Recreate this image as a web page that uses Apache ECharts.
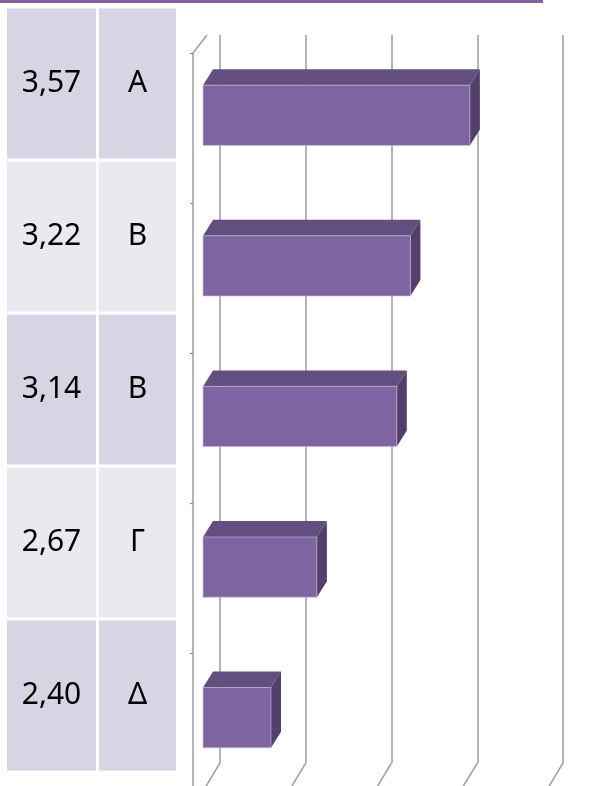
<!DOCTYPE html>
<html>
<head>
<meta charset="utf-8">
<script src="https://cdn.jsdelivr.net/npm/echarts@6/dist/echarts.min.js"></script>
<style>
  html, body { margin: 0; padding: 0; background: #fff; }
  #chart { width: 595px; height: 786px; }
</style>
</head>
<body>
<div id="chart"></div>
<script>
// data
const categories = ['Α', 'Β', 'Β', 'Γ', 'Δ'];
const values = [3.57, 3.22, 3.14, 2.67, 2.40];
const valueLabels = ['3,57', '3,22', '3,14', '2,67', '2,40'];
const axisMin = 2;
const axisMax = 4;
const axisStep = 0.5;

const purple = '#8064a2';
const gridGray = '#a3a3a3';

var chartDom = document.getElementById('chart');
var myChart = echarts.init(chartDom, null, { renderer: 'canvas' });

// table cells drawn as rich labels on a category axis
const cellFont = { fontFamily: 'Noto Sans', fontSize: 30, color: '#000', height: 150, lineHeight: 150, align: 'center' };
const rich = {
  vd: Object.assign({ width: 89, backgroundColor: '#d8d4e3' }, cellFont),
  ld: Object.assign({ width: 77, backgroundColor: '#d8d4e3' }, cellFont),
  vl: Object.assign({ width: 89, backgroundColor: '#ebe9f0' }, cellFont),
  ll: Object.assign({ width: 77, backgroundColor: '#ebe9f0' }, cellFont),
  s: { width: 3, fontSize: 1, height: 150 }
};

function renderBar(params, api) {
  const idx = api.value(1);
  const start = api.coord([axisMin, idx]);
  const end = api.coord([api.value(0), idx]);
  const h = api.size([0, 1])[1] * 0.4;
  const dx = 10, dy = 16;
  const x0 = start[0], x1 = end[0];
  const yt = end[1] - h / 2, yb = end[1] + h / 2;
  return {
    type: 'group',
    children: [
      {
        type: 'polygon',
        shape: { points: [[x0, yt], [x0 + dx, yt - dy], [x1 + dx, yt - dy], [x1, yt]] },
        style: { fill: '#634f7f' }
      },
      {
        type: 'polygon',
        shape: { points: [[x1, yt], [x1 + dx, yt - dy], [x1 + dx, yb - dy], [x1, yb]] },
        style: { fill: '#52406b' }
      },
      {
        type: 'rect',
        shape: { x: x0, y: yt, width: x1 - x0, height: h },
        style: { fill: purple, stroke: '#c9bddb', lineWidth: 0.6 }
      }
    ]
  };
}

const hiddenAxis = { show: false };

const option = {
  backgroundColor: '#fff',
  animation: false,
  grid: [
    // table
    { left: 176, top: 7, width: 1, height: 765, outerBoundsMode: 'none' },
    // back wall (gridlines)
    { left: 220, top: 35, width: 343, height: 728, outerBoundsMode: 'none' },
    // bars
    { left: 203, top: 40, width: 340, height: 753, outerBoundsMode: 'none' },
    // front category axis line
    { left: 193, top: 53, width: 1, height: 750, outerBoundsMode: 'none' }
  ],
  xAxis: [
    Object.assign({ gridIndex: 0, type: 'value' }, hiddenAxis),
    {
      gridIndex: 1, type: 'value', min: axisMin, max: axisMax, interval: axisStep,
      axisLine: { show: false }, axisTick: { show: false }, axisLabel: { show: false },
      splitLine: { show: true, lineStyle: { color: gridGray, width: 1.6 } }
    },
    Object.assign({ gridIndex: 2, type: 'value', min: axisMin, max: axisMax }, hiddenAxis),
    Object.assign({ gridIndex: 3, type: 'value' }, hiddenAxis)
  ],
  yAxis: [
    {
      gridIndex: 0, type: 'category', inverse: true, data: categories,
      axisLine: { show: false }, axisTick: { show: false },
      axisLabel: {
        margin: 0,
        formatter: function (value, index) {
          const k = index % 2 === 0 ? 'd' : 'l';
          return '{v' + k + '|' + valueLabels[index] + '}{s| }{l' + k + '|' + value + '}';
        },
        rich: rich
      }
    },
    Object.assign({ gridIndex: 1, type: 'category', data: categories }, hiddenAxis),
    Object.assign({ gridIndex: 2, type: 'category', inverse: true, data: categories }, hiddenAxis),
    {
      gridIndex: 3, type: 'category', inverse: true, data: categories,
      axisLine: { show: true, lineStyle: { color: gridGray, width: 1.6 } },
      axisTick: { show: true, length: 3, lineStyle: { color: '#888', width: 1.2 } },
      axisLabel: { show: false }
    }
  ],
  series: [
    {
      type: 'custom',
      xAxisIndex: 2,
      yAxisIndex: 2,
      renderItem: renderBar,
      data: values.map((v, i) => [v, i])
    }
  ]
};

myChart.setOption(option);

// decoration: top rule, floor/top perspective edges
const ticks = [];
for (let t = axisMin; t <= axisMax + 1e-9; t += axisStep) ticks.push(t);
const wallBottom = 35 + 728;
const graphics = [
  { type: 'rect', shape: { x: 0, y: 0, width: 543, height: 3 }, style: { fill: purple } },
  { type: 'line', shape: { x1: 193, y1: 53, x2: 207, y2: 35 }, style: { stroke: gridGray, lineWidth: 1.6 } }
];
ticks.forEach(function (t) {
  const x = myChart.convertToPixel({ xAxisIndex: 1 }, t);
  graphics.push({
    type: 'line',
    shape: { x1: x, y1: wallBottom, x2: x - 15, y2: 788 },
    style: { stroke: gridGray, lineWidth: 1.6 }
  });
});
myChart.setOption({ graphic: graphics });
</script>
</body>
</html>
